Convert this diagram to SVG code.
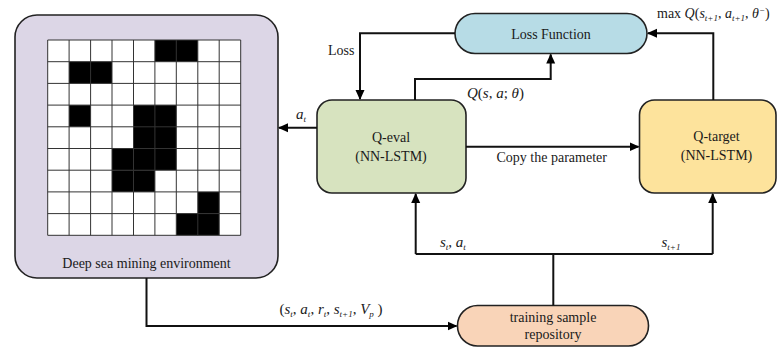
<svg xmlns="http://www.w3.org/2000/svg" width="777" height="349" viewBox="0 0 777 349">
<style>
  text { font-family: "Liberation Serif", "Times New Roman", serif; fill: #1a1a1a; }
  .lbl { font-size: 14px; }
  .math { font-size: 15px; }
  .ctr { text-anchor: middle; }
  .it { font-style: italic; }
  .sub { font-size: 9px; font-style: italic; }
  .box { stroke: #222; stroke-width: 1.6; }
  .conn { fill: none; stroke: #111; stroke-width: 2; }
  .blk { fill: #000; }
  .grid { stroke: #333; stroke-width: 1; fill: none; }
</style>
<defs>
  <marker id="arr" viewBox="0 0 10 10" refX="9" refY="5" markerWidth="10" markerHeight="10" markerUnits="userSpaceOnUse" orient="auto">
    <path d="M0,0.5 L10,5 L0,9.5 Z" fill="#000"/>
  </marker>
</defs>

<g id="env">
  <rect class="box" x="15" y="15" width="263" height="263" rx="22" fill="#dcd6e6"/>
  <rect x="47.7" y="40" width="193" height="195.3" fill="#fff"/>
  <rect class="blk" x="154.9" y="40" width="42.9" height="21.7"/>
  <rect class="blk" x="69.1" y="61.7" width="42.9" height="21.7"/>
  <rect class="blk" x="69.1" y="105.1" width="21.5" height="21.7"/>
  <rect class="blk" x="133.5" y="105.1" width="42.8" height="43.4"/>
  <rect class="blk" x="112" y="148.5" width="64.3" height="21.7"/>
  <rect class="blk" x="112" y="170.2" width="42.9" height="21.7"/>
  <rect class="blk" x="197.8" y="191.9" width="21.4" height="21.7"/>
  <rect class="blk" x="176.3" y="213.6" width="42.9" height="21.7"/>
  <path class="grid" d="M47.7,40 V235.3 M69.1,40 V235.3 M90.6,40 V235.3 M112,40 V235.3 M133.5,40 V235.3 M154.9,40 V235.3 M176.3,40 V235.3 M197.8,40 V235.3 M219.2,40 V235.3 M240.7,40 V235.3 M47.7,40 H240.7 M47.7,61.7 H240.7 M47.7,83.4 H240.7 M47.7,105.1 H240.7 M47.7,126.8 H240.7 M47.7,148.5 H240.7 M47.7,170.2 H240.7 M47.7,191.9 H240.7 M47.7,213.6 H240.7 M47.7,235.3 H240.7"/>
  <text class="lbl ctr" x="146.5" y="268">Deep sea mining environment</text>
</g>

<g id="loss">
  <rect class="box" x="455" y="13.5" width="192" height="40" rx="20" fill="#b7dce6"/>
  <text class="lbl ctr" x="551" y="39">Loss Function</text>
</g>

<g id="qeval">
  <rect class="box" x="317" y="100" width="149" height="93" rx="15" fill="#d7e3bf"/>
  <text class="lbl ctr" x="391" y="141.5">Q-eval</text>
  <text class="lbl ctr" x="391" y="160.5">(NN-LSTM)</text>
</g>

<g id="qtarget">
  <rect class="box" x="639.5" y="100" width="136.5" height="93" rx="15" fill="#fde39c"/>
  <text class="lbl ctr" x="716.5" y="140.5">Q-target</text>
  <text class="lbl ctr" x="716.5" y="159.5">(NN-LSTM)</text>
</g>

<g id="repo">
  <rect class="box" x="457.5" y="305.5" width="191" height="40.5" rx="20" fill="#f9d4b8"/>
  <text class="lbl ctr" x="553" y="322">training sample</text>
  <text class="lbl ctr" x="553" y="339">repository</text>
</g>

<g id="connectors">
  <path class="conn" d="M455,33.3 H360 V99" marker-end="url(#arr)"/>
  <path class="conn" d="M415,100 V79 H550.7 V54.5" marker-end="url(#arr)"/>
  <path class="conn" d="M713.3,100 V33.3 H648" marker-end="url(#arr)"/>
  <path class="conn" d="M466,146.7 H638.5" marker-end="url(#arr)"/>
  <path class="conn" d="M317,127.7 H279" marker-end="url(#arr)"/>
  <path class="conn" d="M146.5,278 V326 H456.5" marker-end="url(#arr)"/>
  <path class="conn" d="M553.3,305.5 V254"/>
  <path class="conn" d="M415.7,254 H712.7"/>
  <path class="conn" d="M415.7,254 V194" marker-end="url(#arr)"/>
  <path class="conn" d="M712.7,254 V194" marker-end="url(#arr)"/>
</g>

<g id="labels">
  <text class="lbl" x="328" y="55">Loss</text>
  <text class="math" x="467" y="98"><tspan class="it">Q</tspan>(<tspan class="it">s</tspan>, <tspan class="it">a</tspan>; <tspan class="it">θ</tspan>)</text>
  <text class="lbl" x="657" y="18">max <tspan class="it">Q</tspan>(<tspan class="it">s</tspan><tspan class="sub" dy="3">t+1</tspan><tspan dy="-3">, </tspan><tspan class="it">a</tspan><tspan class="sub" dy="3">t+1</tspan><tspan dy="-3">, </tspan><tspan class="it">θ</tspan><tspan class="sub" dy="-5">−</tspan><tspan dy="5">)</tspan></text>
  <text class="lbl" x="496.5" y="161.5">Copy the parameter</text>
  <text class="math" x="296" y="119"><tspan class="it">a</tspan><tspan class="sub" dy="3">t</tspan></text>
  <text class="math" x="440" y="247"><tspan class="it">s</tspan><tspan class="sub" dy="3">t</tspan><tspan dy="-3">, </tspan><tspan class="it">a</tspan><tspan class="sub" dy="3">t</tspan></text>
  <text class="math" x="661.5" y="246.5"><tspan class="it">s</tspan><tspan class="sub" dy="3">t+1</tspan></text>
  <text class="math" x="279.5" y="313.5">(<tspan class="it">s</tspan><tspan class="sub" dy="3">t</tspan><tspan dy="-3">, </tspan><tspan class="it">a</tspan><tspan class="sub" dy="3">t</tspan><tspan dy="-3">, </tspan><tspan class="it">r</tspan><tspan class="sub" dy="3">t</tspan><tspan dy="-3">, </tspan><tspan class="it">s</tspan><tspan class="sub" dy="3">t+1</tspan><tspan dy="-3">, </tspan><tspan class="it">V</tspan><tspan class="sub" dy="3">p</tspan><tspan dy="-3"> )</tspan></text>
</g>
</svg>
